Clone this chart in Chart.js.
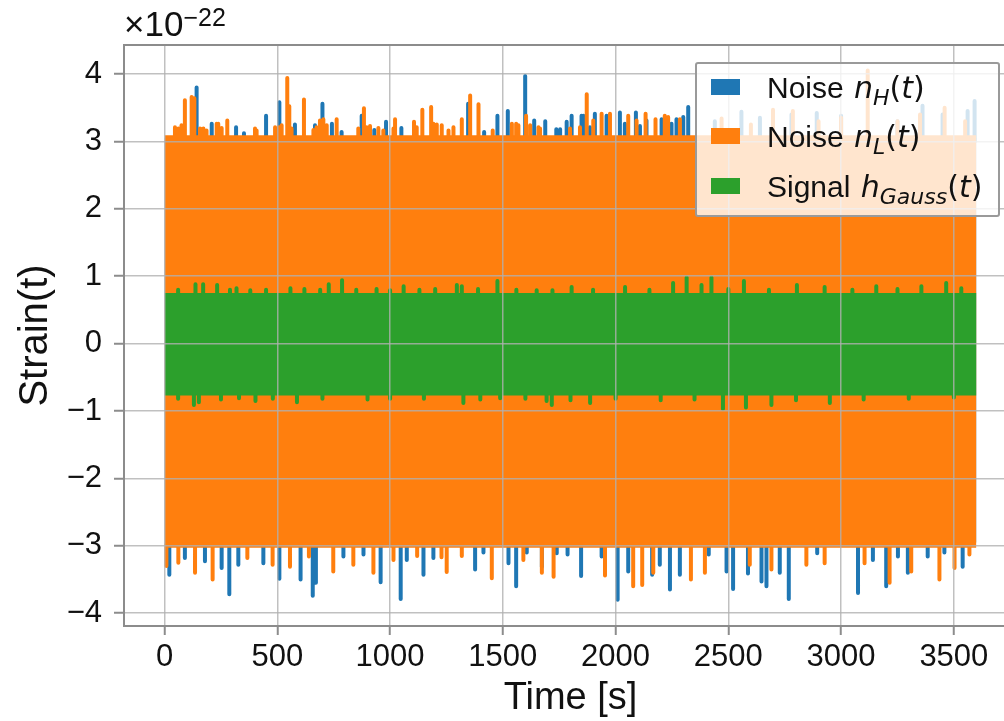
<!DOCTYPE html>
<html lang="en">
<head>
    <meta charset="UTF-8">
    <title>Strain noise and signal</title>
    <script src="https://cdn.jsdelivr.net/npm/chart.js"></script>
    <style>
        body {
            margin: 0;
            overflow: hidden;
            background: #fff;
            font-family: "Liberation Sans", Arial, sans-serif;
            color: #111;
        }
        #wrap { position: relative; width: 1030px; height: 721px; }
        #mult { position: absolute; left: 124px; top: 6px; font-size: 35px; line-height: 35px; }
        #mult sup { font-size: 25px; vertical-align: 10px; line-height: 0; }
        #legend {
            position: absolute; left: 695px; top: 62px; width: 305px; height: 155px;
            box-sizing: border-box; background: rgba(255, 255, 255, 0.8);
            border: 2px solid #9a9a9a; border-radius: 3px;
        }
        .row { position: absolute; left: 14px; height: 40px; display: flex; align-items: center; font-size: 30px; white-space: nowrap; }
        .patch { width: 29px; height: 16px; margin-right: 27px; }
        .math { font-family: "DejaVu Sans", sans-serif; font-size: 30px; margin-left: 2px; }
        .math i { font-style: oblique; }
        .row sub { font-size: 22px; vertical-align: -7px; line-height: 0; }
    </style>
</head>
<body>
<div id="wrap">
    <canvas id="myChart" width="1030" height="721"></canvas>
    <div id="mult">&times;10<sup>&minus;22</sup></div>
    <div id="legend">
        <div class="row" style="top:3px"><span class="patch" style="background:#1f77b4"></span><span>Noise <span class="math"><i>n</i><sub><i>H</i></sub>(<i>t</i>)</span></span></div>
        <div class="row" style="top:52px"><span class="patch" style="background:#ff7f0e"></span><span>Noise <span class="math"><i>n</i><sub><i>L</i></sub>(<i>t</i>)</span></span></div>
        <div class="row" style="top:102px"><span class="patch" style="background:#2ca02c"></span><span>Signal <span class="math"><i>h</i><sub><i>Gauss</i></sub>(<i>t</i>)</span></span></div>
    </div>
</div>

<script>
    // time span of the record [s] and the solid part of each band (x 1e-22)
    const timeSpan = [0, 3600];
    const hBand = [-2.95, 3.05];
    const lBand = [-3.03, 3.09];
    const gBand = [-0.77, 0.75];

    // Hanford noise: spikes sticking out of the band
    const hTopT = [142, 209, 317, 352, 450, 509, 578, 667, 700, 742, 785, 874, 930, 982, 1050, 1200, 1346, 1417, 1476, 1522, 1599, 1639, 1688, 1737, 1754, 1783, 1805, 1849, 1857, 1886, 1908, 1960, 1968, 2019, 2041, 2090, 2108, 2137, 2204, 2248, 2270, 2300, 2322, 2440, 2558, 2640, 2780, 2892, 3000, 3250, 3361, 3450, 3561, 3592];
    const hTopV = [3.80, 3.26, 3.21, 3.12, 3.38, 3.58, 3.25, 3.24, 3.56, 3.26, 3.14, 3.38, 3.17, 3.29, 3.20, 3.20, 3.56, 3.14, 3.38, 3.45, 3.97, 3.31, 3.30, 3.18, 3.18, 3.29, 3.38, 3.38, 3.38, 3.21, 3.41, 3.38, 3.31, 3.43, 3.26, 3.43, 3.23, 3.31, 3.33, 3.26, 3.33, 3.36, 3.51, 3.30, 3.44, 3.35, 3.40, 3.42, 3.38, 3.30, 3.53, 3.40, 3.45, 3.60];
    const hBotT = [21, 90, 179, 253, 287, 327, 438, 509, 603, 657, 671, 793, 882, 958, 1047, 1074, 1148, 1192, 1377, 1414, 1525, 1559, 1606, 1673, 1739, 1787, 1847, 1938, 2009, 2056, 2162, 2196, 2241, 2285, 2413, 2492, 2521, 2587, 2647, 2669, 2728, 2768, 2894, 3075, 3141, 3200, 3252, 3296, 3384, 3458, 3539];
    const hBotV = [-3.43, -3.18, -3.23, -3.33, -3.72, -3.28, -3.26, -3.49, -3.50, -3.74, -3.55, -3.16, -3.13, -3.54, -3.79, -3.21, -3.43, -3.18, -3.35, -3.10, -3.26, -3.60, -3.10, -3.31, -3.11, -3.13, -3.45, -3.16, -3.80, -3.38, -3.43, -3.28, -3.65, -3.43, -3.13, -3.38, -3.64, -3.41, -3.53, -3.60, -3.40, -3.79, -3.11, -3.70, -3.21, -3.60, -3.16, -3.40, -3.16, -3.10, -3.31];

    // Livingston noise
    const lTopT = [46, 61, 75, 90, 120, 132, 157, 172, 186, 231, 238, 253, 278, 401, 408, 490, 507, 519, 544, 553, 563, 618, 660, 674, 689, 704, 719, 763, 859, 884, 896, 911, 948, 970, 1015, 1022, 1106, 1118, 1143, 1182, 1192, 1207, 1229, 1259, 1281, 1318, 1355, 1392, 1455, 1540, 1559, 1569, 1603, 1621, 1658, 1665, 1798, 1842, 1872, 1901, 1938, 1975, 2056, 2093, 2133, 2177, 2218, 2233, 2285, 2470, 2600, 2698, 2786, 2900, 3000, 3118, 3250, 3350, 3459, 3550];
    const lTopV = [3.21, 3.19, 3.24, 3.61, 3.66, 3.64, 3.19, 3.19, 3.16, 3.26, 3.26, 3.20, 3.31, 3.19, 3.16, 3.21, 3.21, 3.24, 3.94, 3.52, 3.19, 3.62, 3.17, 3.21, 3.31, 3.33, 3.24, 3.33, 3.19, 3.49, 3.21, 3.23, 3.20, 3.16, 3.19, 3.33, 3.29, 3.21, 3.47, 3.51, 3.26, 3.25, 3.24, 3.16, 3.21, 3.33, 3.68, 3.55, 3.16, 3.26, 3.26, 3.24, 3.38, 3.24, 3.21, 3.19, 3.19, 3.21, 3.70, 3.31, 3.41, 3.41, 3.38, 3.31, 3.41, 3.33, 3.38, 3.36, 3.33, 3.34, 3.25, 3.47, 3.45, 3.30, 3.35, 4.05, 3.30, 3.40, 3.50, 3.30];
    const lBotT = [8, 61, 135, 213, 367, 479, 556, 640, 748, 837, 926, 1015, 1120, 1228, 1251, 1318, 1451, 1591, 1673, 1725, 1953, 2078, 2118, 2167, 2334, 2396, 2595, 2691, 2846, 2927, 3104, 3215, 3311, 3436, 3503, 3569];
    const lBotV = [-3.30, -3.25, -3.40, -3.50, -3.18, -3.28, -3.31, -3.16, -3.38, -3.28, -3.40, -3.21, -3.15, -3.17, -3.39, -3.15, -3.48, -3.21, -3.40, -3.46, -3.44, -3.60, -3.58, -3.40, -3.50, -3.40, -3.28, -3.35, -3.28, -3.26, -3.26, -3.55, -3.38, -3.50, -3.33, -3.13];

    // Gaussian signal
    const gTopT = [60, 137, 171, 233, 290, 319, 380, 450, 558, 620, 690, 728, 787, 850, 940, 1000, 1060, 1130, 1200, 1296, 1318, 1390, 1476, 1560, 1650, 1720, 1805, 1900, 2042, 2150, 2255, 2315, 2381, 2425, 2500, 2569, 2680, 2804, 2927, 3050, 3156, 3250, 3356, 3466, 3533];
    const gTopV = [0.80, 0.88, 0.88, 0.87, 0.80, 0.82, 0.79, 0.80, 0.82, 0.81, 0.80, 0.88, 0.94, 0.80, 0.81, 0.79, 0.85, 0.80, 0.81, 0.87, 0.85, 0.81, 0.93, 0.80, 0.79, 0.79, 0.84, 0.80, 0.84, 0.80, 0.90, 0.98, 0.87, 0.98, 0.81, 0.93, 0.80, 0.87, 0.84, 0.80, 0.85, 0.81, 0.85, 0.90, 0.82];
    const gBotT = [60, 130, 152, 250, 330, 403, 480, 587, 700, 900, 1000, 1150, 1325, 1400, 1488, 1600, 1694, 1717, 1800, 1887, 2000, 2200, 2350, 2476, 2578, 2691, 2800, 2950, 3100, 3300, 3500];
    const gBotV = [-0.82, -0.91, -0.87, -0.83, -0.81, -0.85, -0.82, -0.87, -0.82, -0.83, -0.82, -0.82, -0.88, -0.83, -0.81, -0.82, -0.85, -0.91, -0.84, -0.88, -0.82, -0.84, -0.83, -0.97, -0.95, -0.91, -0.84, -0.88, -0.83, -0.82, -0.80];

    const xTicks = [0, 500, 1000, 1500, 2000, 2500, 3000, 3500];
    const yTicks = [-4, -3, -2, -1, 0, 1, 2, 3, 4];

    const BLUE = '#1f77b4', ORANGE = '#ff7f0e', GREEN = '#2ca02c';

    // vertical strokes going out from a base level that sits inside the band
    function spikes(times, values, base, color) {
        const pts = [];
        times.forEach((t, i) => {
            pts.push({x: t, y: base}, {x: t, y: values[i]}, {x: t, y: base});
        });
        return {data: pts, borderColor: color, borderWidth: 4, pointRadius: 0,
                borderJoinStyle: 'round', borderCapStyle: 'butt', fill: false};
    }

    function band(lim, color) {
        return {data: timeSpan.map(t => ({x: t, y: lim[1]})), borderWidth: 0, pointRadius: 0,
                backgroundColor: color, borderColor: color, fill: {value: lim[0]}};
    }

    // first dataset is painted last (on top)
    const datasets = [
        spikes(gTopT, gTopV, gBand[1] - 0.05, GREEN),
        spikes(gBotT, gBotV, gBand[0] + 0.05, GREEN),
        band(gBand, GREEN),
        spikes(lTopT, lTopV, lBand[1] - 0.05, ORANGE),
        spikes(lBotT, lBotV, lBand[0] + 0.05, ORANGE),
        band(lBand, ORANGE),
        spikes(hTopT, hTopV, hBand[1] - 0.05, BLUE),
        spikes(hBotT, hBotV, hBand[0] + 0.05, BLUE),
        band(hBand, BLUE)
    ];

    const GRID = 'rgba(176, 176, 176, 0.8)';
    const AXIS = '#8c8c8c';
    const minus = v => (v < 0 ? '\u2212' + Math.abs(v) : String(v));

    // matplotlib-like frame: top and right spines
    const frame = {
        id: 'frame',
        afterDraw(chart) {
            const {ctx, chartArea: a} = chart;
            ctx.save();
            ctx.strokeStyle = AXIS;
            ctx.lineWidth = 2;
            ctx.beginPath();
            ctx.moveTo(a.left, a.top);
            ctx.lineTo(a.right, a.top);
            ctx.lineTo(a.right, a.bottom);
            ctx.stroke();
            ctx.restore();
        }
    };

    new Chart(document.getElementById('myChart'), {
        type: 'line',
        data: {datasets: datasets},
        plugins: [frame],
        options: {
            responsive: false,
            animation: false,
            devicePixelRatio: 1,
            layout: {padding: {top: 45, right: 13, left: 0, bottom: 0}},
            plugins: {
                legend: {display: false},
                tooltip: {enabled: false},
                filler: {drawTime: 'beforeDatasetDraw'}
            },
            scales: {
                x: {
                    type: 'linear', min: -180, max: 3780,
                    afterBuildTicks: s => { s.ticks = xTicks.map(v => ({value: v})); },
                    afterFit: s => { s.height = 95; },
                    ticks: {font: {size: 31, family: 'Liberation Sans'}, color: '#111', padding: 4, maxRotation: 0,
                            callback: v => minus(v)},
                    grid: {z: 1, color: GRID, lineWidth: 1.5, tickLength: 9, tickColor: AXIS, tickWidth: 2},
                    border: {z: 2, color: AXIS, width: 2},
                    title: {display: true, text: 'Time [s]', font: {size: 38, family: 'Liberation Sans'}, color: '#111',
                            padding: {top: 0, bottom: 0}}
                },
                y: {
                    type: 'linear', min: -4.19, max: 4.43,
                    afterBuildTicks: s => { s.ticks = yTicks.map(v => ({value: v})); },
                    afterFit: s => { s.width = 124; },
                    ticks: {font: {size: 31, family: 'Liberation Sans'}, color: '#111', padding: 12,
                            callback: v => minus(v)},
                    grid: {z: 1, color: GRID, lineWidth: 1.5, tickLength: 10, tickColor: AXIS, tickWidth: 2},
                    border: {z: 2, color: AXIS, width: 2},
                    title: {display: true, text: 'Strain(t)', font: {size: 40, family: 'Liberation Sans'}, color: '#111',
                            padding: {top: 12, bottom: 0}}
                }
            }
        }
    });
</script>
</body>
</html>
